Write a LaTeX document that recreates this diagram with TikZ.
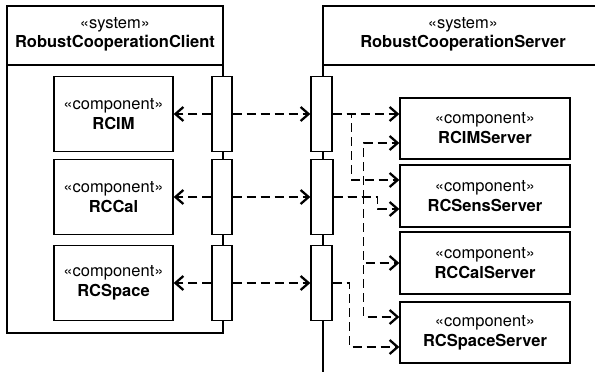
\documentclass[tikz,border=0pt]{standalone}
\usepackage{fontspec}
\setmainfont{TeX Gyre Heros}
\usetikzlibrary{arrows.meta}

\begin{document}
\begin{tikzpicture}[
        x=1pt, y=-1pt,
        comp/.style={rectangle, draw, line width=1.3pt, align=center, inner sep=0pt, font=\fontsize{16.5}{20}\selectfont},
        port/.style={rectangle, draw, fill=white, line width=1.3pt, inner sep=0pt, minimum width=20pt, minimum height=75pt},
        title/.style={align=center, font=\fontsize{16.5}{19}\selectfont},
        dep/.style={dash pattern=on 9pt off 5pt, line width=1.3pt, -{Straight Barb[length=8pt,width=14pt,line width=2.3pt]}}
    ]
        \useasboundingbox (0,0) rectangle (595,372);

        % Client system frame with its header
        \draw[line width=1.3pt] (7,6) rectangle (223,333);
        \draw[line width=1.3pt] (7,65) -- (223,65);
        \node[title] (client_title) at (115,34) {«system»\\\textbf{RobustCooperationClient}};

        % Server system frame (open to the right and below)
        \draw[line width=1.3pt] (600,6) -- (323,6) -- (323,380);
        \draw[line width=1.3pt] (323,65) -- (600,65);
        \node[title] (server_title) at (463,34) {«system»\\\textbf{RobustCooperationServer}};

        % Client components
        \node[comp, minimum width=119pt, minimum height=75pt] (rcim) at (113.5,114) {«component»\\\textbf{RCIM}};
        \node[comp, minimum width=119pt, minimum height=75pt] (rccal) at (113.5,197) {«component»\\\textbf{RCCal}};
        \node[comp, minimum width=119pt, minimum height=75pt] (rcspace) at (113.5,283) {«component»\\\textbf{RCSpace}};

        % Server components
        \node[comp, minimum width=170pt, minimum height=61pt] (rcim_srv) at (485,128.5) {«component»\\\textbf{RCIMServer}};
        \node[comp, minimum width=170pt, minimum height=62pt] (rcsens_srv) at (485,196) {«component»\\\textbf{RCSensServer}};
        \node[comp, minimum width=170pt, minimum height=62pt] (rccal_srv) at (485,263) {«component»\\\textbf{RCCalServer}};
        \node[comp, minimum width=170pt, minimum height=61pt] (rcspace_srv) at (485,332.5) {«component»\\\textbf{RCSpaceServer}};

        % Ports on both frames
        \node[port] (cport1) at (222,114) {};
        \node[port] (cport2) at (222,197) {};
        \node[port] (cport3) at (222,283) {};
        \node[port, minimum width=21pt] (sport1) at (321.5,114) {};
        \node[port, minimum width=22pt] (sport2) at (322,197) {};
        \node[port, minimum width=21pt] (sport3) at (321.5,283) {};

        % Client ports to client components
        \draw[dep] (cport1.west) -- (rcim.east |- cport1.west);
        \draw[dep] (cport2.west) -- (rccal.east |- cport2.west);
        \draw[dep] (cport3.west) -- (rcspace.east |- cport3.west);

        % Client ports to server ports
        \draw[dep] (cport1.east) -- (sport1.west);
        \draw[dep] (cport2.east) -- (sport2.west);
        \draw[dep] (cport3.east) -- (sport3.west);

        % Server ports to server components
        \draw[dep] (sport1.east) -- (rcim_srv.west |- sport1.east);
        \draw[dep] (sport1.east) -- ++(19,0) |- (rcsens_srv.west |- 0,180);
        \draw[dep] (sport2.east) -- ++(44,0) |- (rcsens_srv.west |- 0,209);
        \draw[dep] (sport2.east) -- ++(30,0) |- (rcim_srv.west |- 0,143);
        \draw[dep] (sport2.east) -- ++(30,0) |- (rccal_srv.west |- 0,263);
        \draw[dep] (sport2.east) -- ++(30,0) |- (rcspace_srv.west |- 0,317);
        \draw[dep] (sport3.east) -- ++(17,0) |- (rcspace_srv.west |- 0,347);

    \end{tikzpicture}
\end{document}
